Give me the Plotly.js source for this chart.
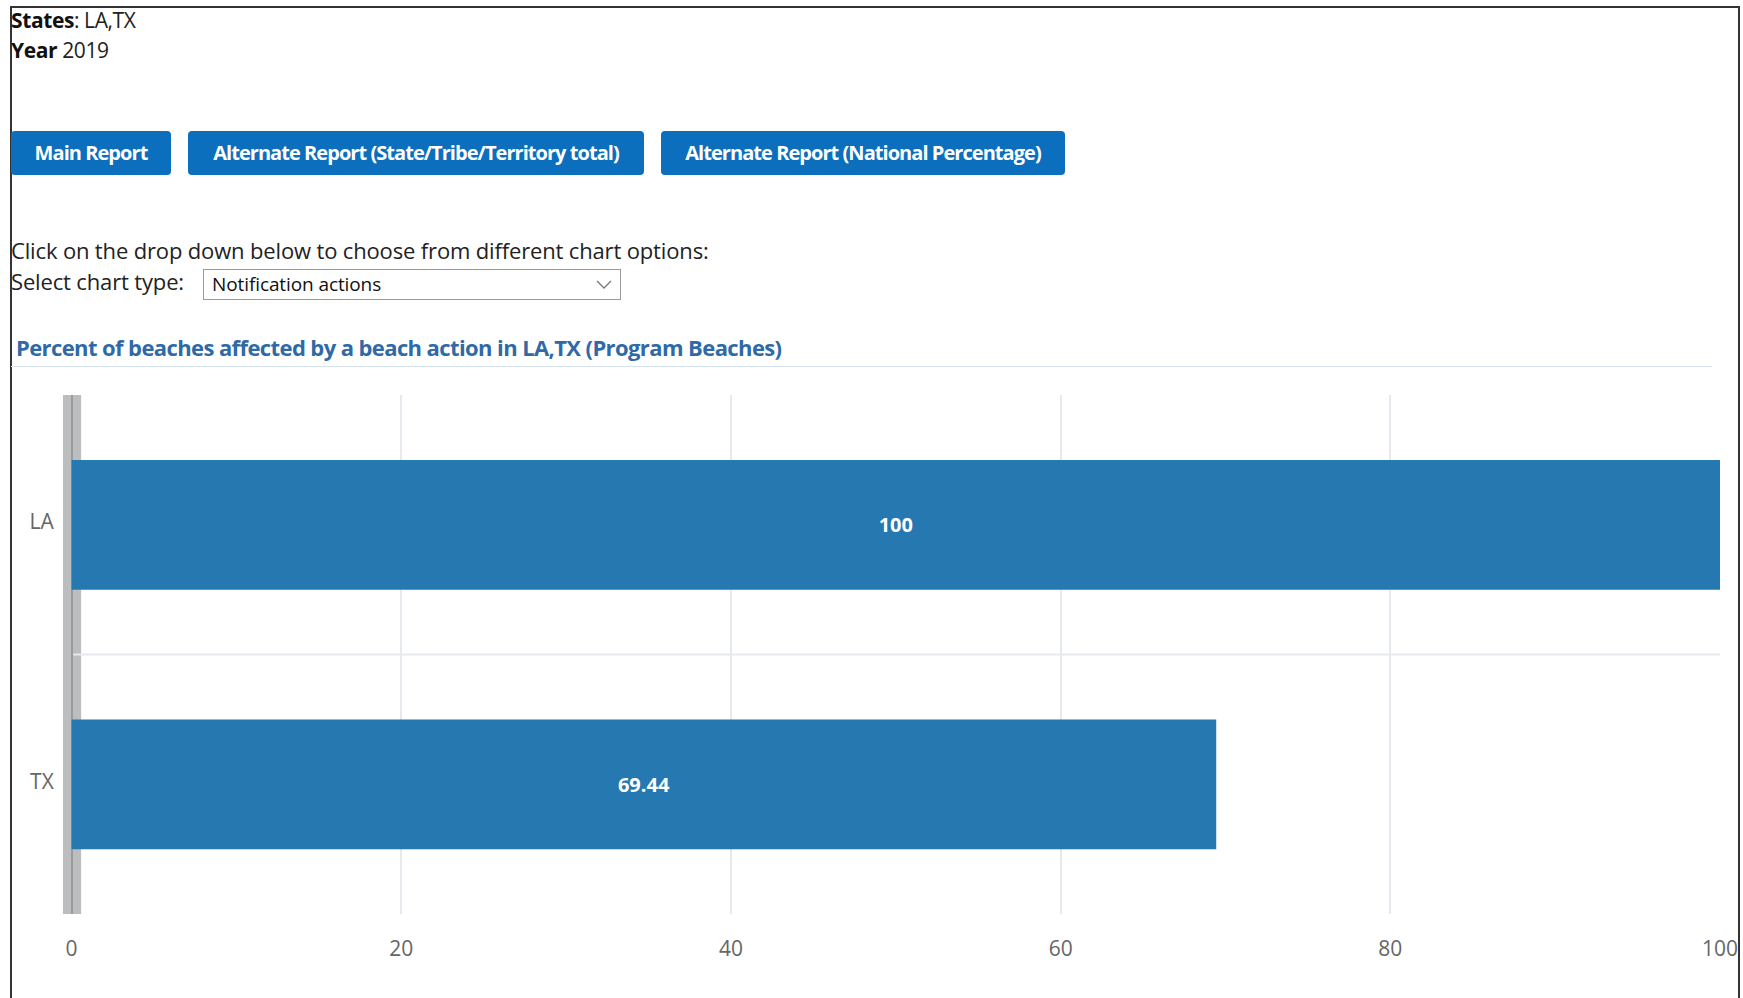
<!DOCTYPE html>
<html>
<head>
<meta charset="utf-8">
<script src="https://cdn.plot.ly/plotly-3.0.1.min.js"></script>
<style>
  html, body { margin: 0; padding: 0; background: #fff; width: 1743px; height: 998px; overflow: hidden; }
  body { font-family: "Open Sans", "DejaVu Sans", sans-serif; color: #222; position: relative; }
  #frame { position: absolute; left: 10px; top: 6px; width: 1730px; height: 1100px; border: 2px solid #333; border-bottom: none; box-sizing: border-box; }
  .info { position: absolute; left: 11px; font-size: 21px; letter-spacing: -0.4px; color: #222; }
  .info b { color: #111; }
  .btn { position: absolute; top: 131px; height: 44px; background: #0b6fbd; color: #fff; border-radius: 4px;
         font-weight: bold; font-size: 20px; letter-spacing: -0.95px; line-height: 44px; text-align: center; }
  .txt { position: absolute; left: 11px; font-size: 22px; letter-spacing: -0.15px; color: #222; }
  #sel { position: absolute; left: 203px; top: 269px; width: 418px; height: 31px; border: 1px solid #999; box-sizing: border-box;
         font-size: 19px; letter-spacing: -0.1px; line-height: 29px; padding-left: 8px; color: #111; }
  #sel svg { position: absolute; right: 8px; top: 10px; }
  #ctitle { position: absolute; left: 16px; top: 332px; font-size: 22px; font-weight: bold; color: #2f6aa6; letter-spacing: -0.6px; }
  #rule { position: absolute; left: 11px; top: 366px; width: 1701px; height: 1px; background: #d6e3f0; }
  #chart { position: absolute; left: 0; top: 380px; width: 1743px; height: 618px; }
</style>
</head>
<body>
<div id="frame"></div>
<div class="info" style="top:6px;"><b>States</b>: LA,TX</div>
<div class="info" style="top:36px;"><b>Year</b> 2019</div>
<div class="btn" style="left:11px;width:160px;">Main Report</div>
<div class="btn" style="left:188px;width:456px;">Alternate Report (State/Tribe/Territory total)</div>
<div class="btn" style="left:661px;width:404px;">Alternate Report (National Percentage)</div>
<div class="txt" style="top:235px;">Click on the drop down below to choose from different chart options:</div>
<div class="txt" style="top:266px;">Select chart type:</div>
<div id="sel">Notification actions<svg width="16" height="10" viewBox="0 0 16 10"><polyline points="1,1 8,8 15,1" fill="none" stroke="#777" stroke-width="1.3"/></svg></div>
<div id="ctitle">Percent of beaches affected by a beach action in LA,TX (Program Beaches)</div>
<div id="rule"></div>
<div id="chart"></div>
<script>
const states = ["LA", "TX"];
const percentAffected = [100, 69.44];
const xTicks = [0, 20, 40, 60, 80, 100];

const trace = {
  type: "bar",
  orientation: "h",
  y: states,
  x: percentAffected,
  text: percentAffected.map(v => String(v)),
  textposition: "inside",
  insidetextanchor: "middle",
  textfont: { family: "Open Sans, sans-serif", size: 20, color: "#ffffff", weight: "bold" },
  marker: { color: "#2679b0", line: { width: 0 } },
  hoverinfo: "none"
};

const layout = {
  width: 1743,
  height: 618,
  margin: { l: 63, r: 23, t: 15, b: 84 },
  paper_bgcolor: "rgba(0,0,0,0)",
  plot_bgcolor: "rgba(0,0,0,0)",
  showlegend: false,
  bargap: 0.5,
  font: { family: "Open Sans, sans-serif", size: 21, color: "#666" },
  xaxis: {
    range: [-0.52, 100],
    tickvals: xTicks,
    ticktext: xTicks.map(String),
    showgrid: true,
    gridcolor: "#e6e9ee",
    gridwidth: 2,
    zeroline: true,
    zerolinecolor: "#9a9b9d",
    zerolinewidth: 2,
    showline: false,
    ticks: "outside",
    ticklen: 16,
    tickcolor: "rgba(0,0,0,0)",
    tickfont: { size: 21, color: "#666" },
    fixedrange: true
  },
  yaxis: {
    type: "category",
    categoryarray: states,
    range: [1.5, -0.5],
    showgrid: false,
    zeroline: false,
    showline: false,
    ticks: "outside",
    ticklen: 4,
    tickcolor: "rgba(0,0,0,0)",
    ticklabelshift: 3,
    tickfont: { size: 21, color: "#666" },
    fixedrange: true
  },
  shapes: [
    { type: "rect", layer: "below", xref: "x", yref: "paper", x0: -0.52, x1: 0.58, y0: 0, y1: 1,
      fillcolor: "#bcbdbf", line: { width: 0 } },
    { type: "line", layer: "below", xref: "x", yref: "y", x0: 0.1, x1: 100, y0: 0.5, y1: 0.5,
      line: { color: "#e6e9ee", width: 2 } }
  ]
};

Plotly.newPlot("chart", [trace], layout, { displayModeBar: false, staticPlot: true });
</script>
</body>
</html>
